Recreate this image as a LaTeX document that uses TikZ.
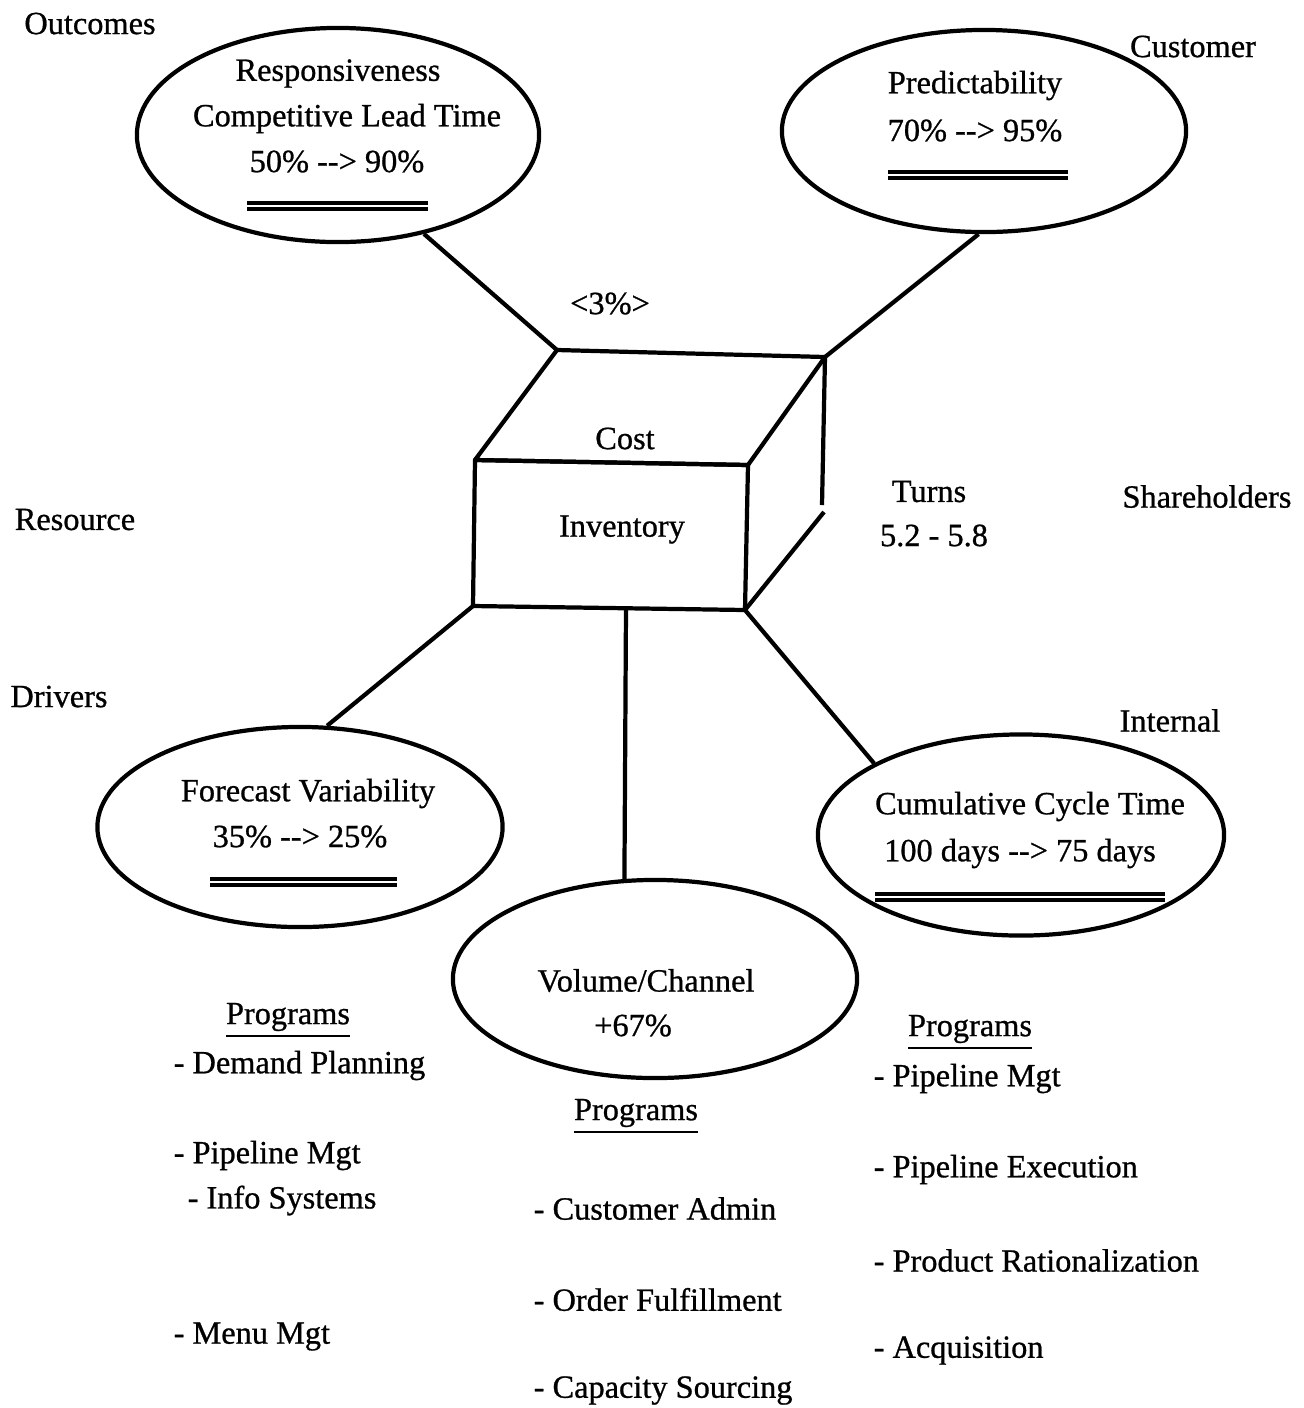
\documentclass[tikz,border=0pt]{standalone}
\usepackage{fontspec}
\setmainfont{Liberation Serif}[FakeBold=0.8]
\usetikzlibrary{shapes.geometric}

\newcommand{\toarr}{-{}->}

\tikzset{
	goal/.style={draw, ellipse, line width=1.2pt, inner sep=0pt},
	lbl/.style={font=\fontsize{9.2}{11}\selectfont, inner sep=0pt, yshift=-1pt},
	item/.style={lbl, anchor=west},
	edge/.style={line width=1.2pt},
	target/.style={line width=1pt, double, double distance=0.8pt},
}

\begin{document}
\begin{tikzpicture}[x=0.01cm, y=-0.01cm]
			%%%%% START %%%%%
			\useasboundingbox (0,0) rectangle (1304,1408);
			
			% cube
			\coordinate (bl) at (557,350);
			\coordinate (br) at (825,357);
			\coordinate (ftl) at (475,460);
			\coordinate (ftr) at (748,465);
			\coordinate (fbl) at (473,606);
			\coordinate (fbr) at (745,610);
			\coordinate (fbm) at (626,608);
			\coordinate (rb) at (822,505);
			\coordinate (rg) at (824,512);
			
			\draw[edge, line join=round] (ftl) -- (bl) -- (br) -- (ftr) -- cycle;
			\draw[edge, line join=round] (ftl) -- (ftr) -- (fbr) -- (fbl) -- cycle;
			\draw[edge] (br) -- (rb);
			\draw[edge] (rg) -- (fbr);
			
			\node[lbl] (cost) at (625,435) {Cost};
			\node[lbl] (inv) at (622,526) {Inventory};
			
			% ellipses
			\node[goal, minimum width=4.02cm, minimum height=2.14cm] (resp) at (338,135) {};
			\node[goal, minimum width=4.04cm, minimum height=2.02cm] (pred) at (984,131) {};
			\node[goal, minimum width=4.05cm, minimum height=2cm] (fcst) at (300,827) {};
			\node[goal, minimum width=4.06cm, minimum height=2.01cm] (cycle) at (1021,835) {};
			\node[goal, minimum width=4.04cm, minimum height=1.98cm] (vol) at (655,979) {};
			
			\draw[edge] (resp.-49) -- (bl);
			\draw[edge] (pred.-93) -- (br);
			\draw[edge] (fbl) -- (fcst.75);
			\draw[edge] (fbm) -- (vol.107);
			\draw[edge] (fbr) -- (cycle.154);
			
			\node[lbl] (respA) at (338,70) {Responsiveness};
			\node[lbl] (respB) at (347,115) {Competitive Lead Time};
			\node[lbl] (respC) at (337,158) {50\% \toarr{} 90\%};
			\draw[target] (247,206) -- (428,206);
			
			\node[lbl] (predA) at (975,82) {Predictability};
			\node[lbl] (predB) at (975,127) {70\% \toarr{} 95\%};
			\draw[target] (888,175) -- (1068,175);
			
			\node[lbl] (fcstA) at (308,790) {Forecast Variability};
			\node[lbl] (fcstB) at (300,833) {35\% \toarr{} 25\%};
			\draw[target] (210,882) -- (397,882);
			
			\node[lbl] (cycleA) at (1030,803) {Cumulative Cycle Time};
			\node[lbl] (cycleB) at (1020,850) {100 days \toarr{} 75 days};
			\draw[target] (875,897) -- (1165,897);
			
			\node[lbl] (volA) at (646,977) {Volume/Channel};
			\node[lbl] (volB) at (633,1022) {+67\%};
			
			% side labels
			\node[lbl] (outc) at (90,20) {Outcomes};
			\node[lbl] (cust) at (1193,43) {Customer};
			\node[lbl] (pct) at (610,300) {<3\%>};
			\node[lbl] (turns) at (929,488) {Turns};
			\node[lbl] (turnsv) at (934,532) {5.2 - 5.8};
			\node[lbl] (share) at (1207,493) {Shareholders};
			\node[lbl] (res) at (75,516) {Resource};
			\node[lbl] (drv) at (59,693) {Drivers};
			\node[lbl] (intl) at (1170,717) {Internal};
			
			% programs
			\node[lbl] (progL) at (288,1017) {\underline{Programs}};
			\node[item] (dp) at (173,1062) {- Demand Planning};
			\node[item] (pmL) at (173,1152) {- Pipeline Mgt};
			\node[item] (info) at (187,1197) {- Info Systems};
			\node[item] (menu) at (173,1333) {- Menu Mgt};
			
			\node[lbl] (progM) at (636,1113) {\underline{Programs}};
			\node[item] (ca) at (533,1205) {- Customer Admin};
			\node[item] (of) at (533,1296) {- Order Fulfillment};
			\node[item] (cs) at (533,1387) {- Capacity Sourcing};
			
			\node[lbl] (progR) at (970,1029) {\underline{Programs}};
			\node[item] (pmR) at (873,1075) {- Pipeline Mgt};
			\node[item] (pe) at (873,1166) {- Pipeline Execution};
			\node[item] (pr) at (873,1257) {- Product Rationalization};
			\node[item] (acq) at (873,1347) {- Acquisition};
			
			%%%%% END %%%%%
\end{tikzpicture}
\end{document}
